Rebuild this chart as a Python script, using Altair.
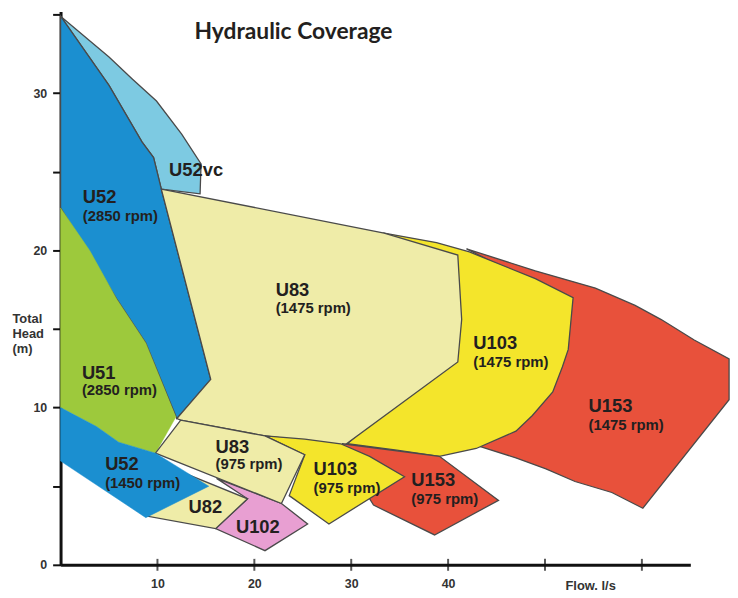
import altair as alt
import pandas as pd

# ---------------- data (flow l/s, head m) ----------------
u52vc_x = [0, 2.3, 5.0, 7.4, 9.9, 12.5, 14.5, 14.4, 10.4, 9.6, 8.4, 5.0]
u52vc_y = [34.9, 33.7, 32.3, 30.9, 29.5, 27.4, 25.5, 23.6, 23.9, 25.9, 26.9, 30.5]

u52_2850_x = [0, 5.0, 8.4, 9.6, 10.4, 15.5, 12.0, 8.8, 5.8, 0]
u52_2850_y = [34.9, 30.5, 26.9, 25.9, 23.9, 11.8, 9.3, 14.1, 16.9, 22.7]

u51_x = [0, 3.0, 5.8, 8.8, 11.9, 9.8, 6.0, 3.7, 0]
u51_y = [22.7, 20.0, 16.9, 14.1, 9.4, 7.1, 7.8, 8.8, 10.0]

u153_1475_x = [41.9, 49.0, 55.2, 59.3, 62.0, 65.4, 69.0, 69.0, 60.1, 56.9, 53.1, 50.1, 47.0, 43.9, 41.9, 47.0, 51.1, 52.1]
u153_1475_y = [20.1, 18.7, 17.6, 16.5, 15.6, 14.3, 13.1, 10.5, 3.6, 4.6, 5.3, 6.1, 6.8, 7.4, 7.8, 9.3, 13.1, 16.9]

u103_1475_x = [33.4, 38.8, 42.2, 49.0, 52.9, 52.4, 51.8, 50.8, 48.7, 47.0, 42.9, 39.1, 34.7, 29.6, 34.7, 38.8]
u103_1475_y = [21.1, 20.5, 19.9, 18.2, 17.0, 13.7, 12.6, 11.0, 9.5, 8.5, 7.4, 6.9, 7.3, 7.7, 10.5, 16.9]

u83_1475_x = [10.4, 33.4, 41.0, 41.4, 41.0, 29.3, 21.1, 12.4, 12.0, 15.5]
u83_1475_y = [23.9, 21.1, 19.7, 15.6, 12.9, 7.6, 8.2, 9.2, 9.3, 11.8]

u153_975_x = [29.1, 39.1, 45.2, 38.6, 32.3, 30.6]
u153_975_y = [7.7, 6.9, 4.1, 1.9, 3.8, 5.5]

u103_975_x = [21.1, 25.2, 28.9, 31.9, 35.5, 27.7, 23.6, 25.2]
u103_975_y = [8.2, 8.0, 7.7, 6.9, 5.6, 2.6, 4.4, 7.0]

u102_x = [16.1, 22.8, 25.5, 21.1, 16.0, 19.3]
u102_y = [5.5, 3.9, 2.6, 0.9, 2.3, 4.2]

u82_x = [8.9, 11.7, 19.3, 16.0]
u82_y = [3.1, 6.1, 4.2, 2.3]

u83_975_x = [9.8, 12.4, 21.1, 25.2, 22.8]
u83_975_y = [7.1, 9.2, 8.2, 7.0, 3.9]

u52_1450_x = [0, 3.7, 6.0, 9.8, 15.3, 8.8, 0]
u52_1450_y = [10.0, 8.8, 7.8, 7.1, 5.0, 3.0, 6.6]

# labels
model_names = ["U52vc", "U52", "U51", "U52", "U83", "U103", "U153", "U83", "U103", "U153", "U82", "U102"]
model_x = [11.2, 2.3, 2.2, 4.6, 22.2, 42.6, 54.5, 16.0, 26.1, 36.2, 13.2, 18.1]
model_y = [24.7, 23.0, 11.8, 6.0, 17.1, 13.7, 9.7, 7.1, 5.7, 5.0, 3.3, 2.0]

speed_text = ["(2850 rpm)", "(2850 rpm)", "(1450 rpm)", "(1475 rpm)", "(1475 rpm)",
              "(1475 rpm)", "(975 rpm)", "(975 rpm)", "(975 rpm)"]
speed_x = [2.3, 2.2, 4.6, 22.2, 42.6, 54.5, 16.0, 26.1, 36.2]
speed_y = [21.9, 10.8, 4.9, 16.0, 12.6, 8.6, 6.1, 4.6, 3.9]

x_ticks = [10, 20, 30, 40, 50, 60]
y_ticks = [0, 5, 10, 15, 20, 25, 30, 35]

# ---------------- styles ----------------
C_LBLUE = "#7dcae2"
C_BLUE = "#1b8fd0"
C_GREEN = "#9dc93c"
C_PALE = "#efeca8"
C_YELLOW = "#f4e52b"
C_RED = "#e8513b"
C_PINK = "#e89fd2"

regions = [
    (u52vc_x, u52vc_y, C_LBLUE, True),
    (u52_2850_x, u52_2850_y, C_BLUE, True),
    (u51_x, u51_y, C_GREEN, False),
    (u153_1475_x, u153_1475_y, C_RED, True),
    (u103_1475_x, u103_1475_y, C_YELLOW, True),
    (u83_1475_x, u83_1475_y, C_PALE, True),
    (u153_975_x, u153_975_y, C_RED, True),
    (u103_975_x, u103_975_y, C_YELLOW, True),
    (u102_x, u102_y, C_PINK, True),
    (u82_x, u82_y, C_PALE, True),
    (u83_975_x, u83_975_y, C_PALE, True),
    (u52_1450_x, u52_1450_y, C_BLUE, False),
]

W, H = 635, 558
xscale = alt.Scale(domain=[0, 65], nice=False, zero=False)
yscale = alt.Scale(domain=[0, 35.2], nice=False, zero=False)

FONT = "Liberation Sans"
INK = "#231f20"

x_axis = alt.Axis(
    values=x_ticks,
    labelExpr="datum.value <= 40 ? datum.label : ''",
    domainColor="#111", domainWidth=3,
    ticks=False,
    labelFont=FONT, labelFontWeight="bold", labelFontSize=12.5, labelColor="#333",
    labelPadding=13, grid=False,
    title="Flow.  l/s", titleX=534, titleY=25, titleAlign="center", titleBaseline="alphabetic",
    titleFont=FONT, titleFontWeight="bold", titleFontSize=13, titleColor="#333",
)
y_axis = alt.Axis(
    values=y_ticks,
    labelExpr="datum.value % 10 == 0 ? datum.label : ''",
    domainColor="#111", domainWidth=3,
    tickColor="#111", tickWidth=2, tickSize=8,
    labelFont=FONT, labelFontWeight="bold", labelFontSize=12.5, labelColor="#333",
    labelPadding=6, grid=False,
    title=["Total", "Head", "(m)"], titleAngle=0, titleX=-49, titleY=314,
    titleAlign="left", titleBaseline="alphabetic", titleLineHeight=15,
    titleFont=FONT, titleFontWeight="bold", titleFontSize=13, titleColor="#333",
)

layers = []
for px, py, fill, stroked in regions:
    df = pd.DataFrame({"x": px, "y": py, "i": list(range(len(px)))})
    mk = dict(interpolate="linear-closed", fill=fill, fillOpacity=1)
    if stroked:
        mk.update(stroke="#4a4a4a", strokeWidth=1.3)
    else:
        mk.update(stroke=fill, strokeWidth=0.5)
    layers.append(
        alt.Chart(df).mark_line(**mk).encode(
            x=alt.X("x:Q", scale=xscale, axis=x_axis),
            y=alt.Y("y:Q", scale=yscale, axis=y_axis),
            order=alt.Order("i:Q"),
        )
    )

tick_df = pd.DataFrame({"x": x_ticks, "y": [0] * len(x_ticks)})
layers.append(
    alt.Chart(tick_df).mark_tick(orient="vertical", size=12, thickness=2, color="#111").encode(
        x=alt.X("x:Q", scale=xscale, axis=x_axis),
        y=alt.Y("y:Q", scale=yscale, axis=y_axis),
    )
)

name_df = pd.DataFrame({"x": model_x, "y": model_y, "t": model_names})
layers.append(
    alt.Chart(name_df).mark_text(align="left", baseline="alphabetic", font=FONT,
                                 fontWeight="bold", fontSize=18.5, color=INK).encode(
        x=alt.X("x:Q", scale=xscale, axis=x_axis),
        y=alt.Y("y:Q", scale=yscale, axis=y_axis),
        text="t:N",
    )
)
speed_df = pd.DataFrame({"x": speed_x, "y": speed_y, "t": speed_text})
layers.append(
    alt.Chart(speed_df).mark_text(align="left", baseline="alphabetic", font=FONT,
                                  fontWeight="bold", fontSize=15, color=INK).encode(
        x=alt.X("x:Q", scale=xscale, axis=x_axis),
        y=alt.Y("y:Q", scale=yscale, axis=y_axis),
        text="t:N",
    )
)

chart = alt.layer(*layers).properties(
    width=W, height=H,
    autosize=alt.AutoSizeParams(type="none"),
    padding={"left": 53, "top": 1, "right": 40, "bottom": 30},
    title=alt.TitleParams(
        "Hydraulic Coverage", anchor="start", dx=184, dy=51, offset=0,
        baseline="alphabetic", font="Lato", fontSize=23, fontWeight="bold", color=INK,
    ),
    background="white",
).configure_view(stroke=None)

chart.save("out.html", embed_options={"renderer": "svg", "actions": False})
